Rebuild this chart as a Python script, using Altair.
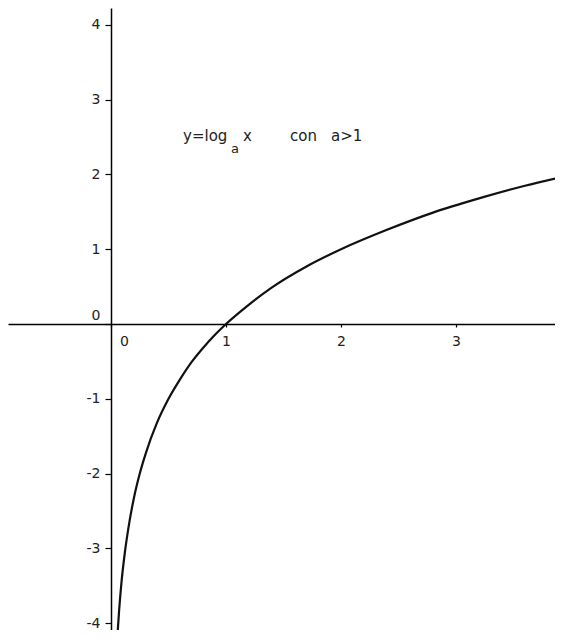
import altair as alt
import pandas as pd

# curve points (y = log_a x, a ~ 2)
curve_x = [0.055, 0.07, 0.09, 0.12, 0.15, 0.2, 0.25, 0.3, 0.4, 0.5, 0.6, 0.7, 0.8, 0.9,
           1.0, 1.2, 1.4, 1.7, 2.0, 2.4, 2.8, 3.2, 3.6, 3.93]
curve_y = [-4.18, -3.84, -3.47, -3.06, -2.74, -2.32, -2.0, -1.74, -1.32, -1.0, -0.74, -0.51,
           -0.32, -0.15, 0.0, 0.26, 0.49, 0.77, 1.0, 1.26, 1.49, 1.68, 1.85, 1.97]

x_ticks = [0, 1, 2, 3]
y_ticks = [-4, -3, -2, -1, 0, 1, 2, 3, 4]

# annotation pieces (text, x, y in data units, font size)
ann_text = ["y=log", "a", "x", "con", "a>1"]
ann_x = [0.626, 1.043, 1.148, 1.557, 1.913]
ann_y = [2.448, 2.288, 2.448, 2.448, 2.448]
ann_size = [15, 13, 15, 15, 15]

X_DOMAIN = [-0.896, 3.861]
Y_DOMAIN = [-4.0936, 4.2274]

FONT = "DejaVu Sans"

curve_df = pd.DataFrame({"x": curve_x, "y": curve_y})
ann_df = pd.DataFrame({"t": ann_text, "x": ann_x, "y": ann_y, "s": ann_size})

xscale = alt.Scale(domain=X_DOMAIN, nice=False, zero=False)
yscale = alt.Scale(domain=Y_DOMAIN, nice=False, zero=False)

xaxis = alt.Axis(
    values=x_ticks, orient="bottom", offset=-306, grid=False, title=None,
    domainColor="black", domainWidth=1.5, tickColor="black", tickWidth=1.2, tickSize=3,
    labelFont=FONT, labelFontSize=14, labelColor="#222", labelPadding=7,
    labelExpr="'' + datum.value",
    labelOffset={"condition": {"test": "datum.value === 0", "value": 13}, "value": 0},
)
yaxis = alt.Axis(
    values=y_ticks, orient="left", offset=-103, grid=False, title=None,
    domainColor="black", domainWidth=1.5, tickColor="black", tickWidth=1.2, tickSize=6,
    labelFont=FONT, labelFontSize=14, labelColor="#222", labelPadding=5,
    labelExpr="'' + datum.value",
    labelOffset={"condition": {"test": "datum.value === 0", "value": -9}, "value": 0},
)

curve = alt.Chart(curve_df).mark_line(
    color="#111", strokeWidth=2.2, interpolate="monotone", clip=True
).encode(
    x=alt.X("x:Q", scale=xscale, axis=xaxis),
    y=alt.Y("y:Q", scale=yscale, axis=yaxis),
)

ann = alt.Chart(ann_df).mark_text(
    align="left", baseline="alphabetic", font=FONT, color="#222"
).encode(
    x=alt.X("x:Q", scale=xscale),
    y=alt.Y("y:Q", scale=yscale),
    text="t:N",
    size=alt.Size("s:Q", scale=None, legend=None),
)

chart = alt.layer(curve, ann).properties(
    width=547, height=622, padding=0, background="white",
    autosize=alt.AutoSizeParams(type="none"),
).configure_view(strokeWidth=0)

chart.save("out.html", embed_options={"renderer": "svg", "actions": False})
